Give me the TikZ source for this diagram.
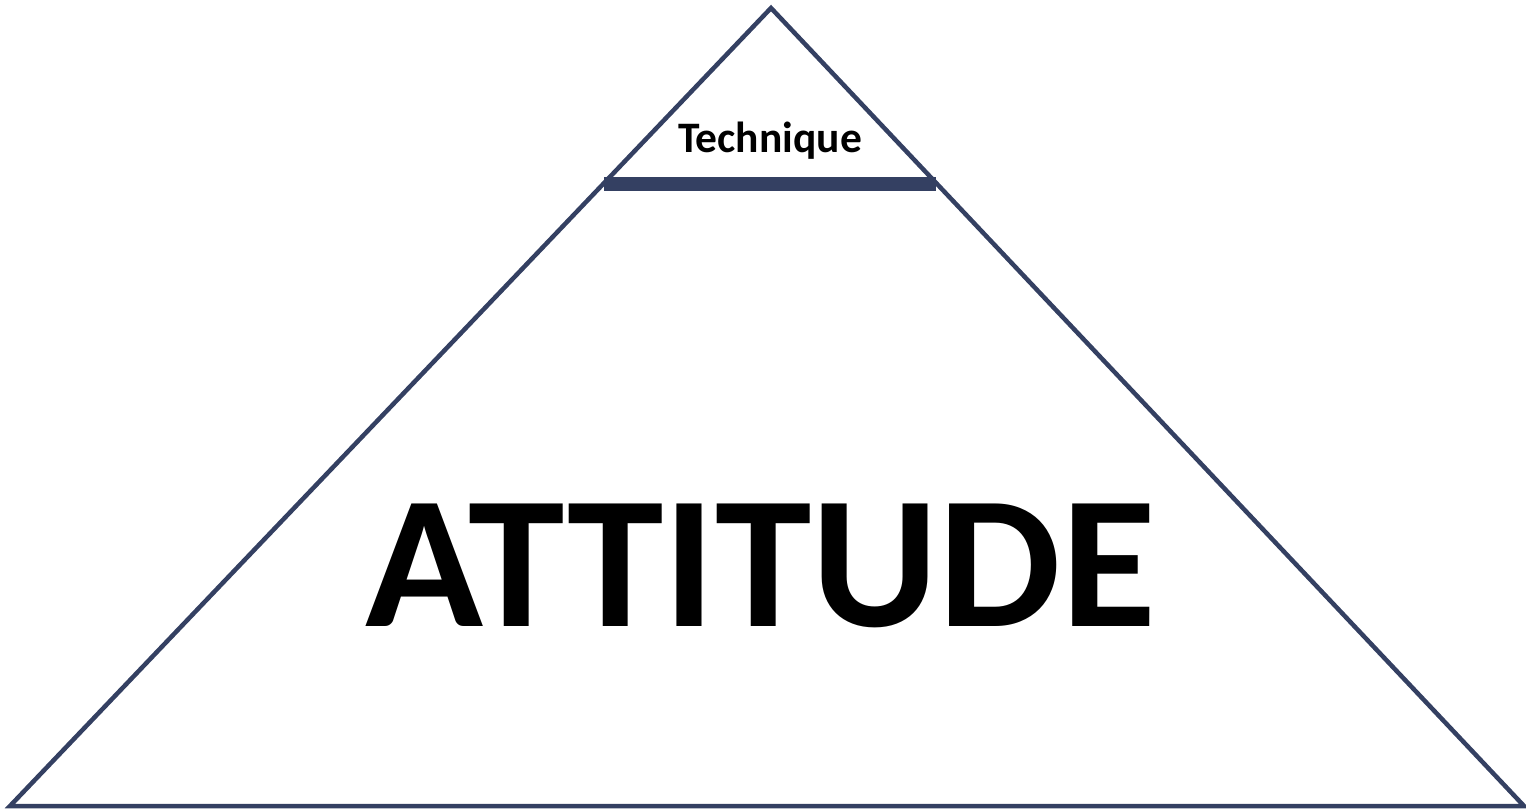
\documentclass[tikz,border=0pt]{standalone}
\usepackage{fontspec}
\setmainfont{Carlito}
\definecolor{pyrnavy}{RGB}{52,64,98}
\begin{document}
\begin{tikzpicture}[x=1pt, y=-1pt, every node/.style={font=\bfseries, inner sep=0pt}]
  \useasboundingbox (0,0) rectangle (1526,810);
  \coordinate (apex) at (771,8);
  \coordinate (baseL) at (10,806);
  \coordinate (baseR) at (1524,806);
  \draw[line width=4.5pt, pyrnavy, line join=miter] (apex) -- (baseR) -- (baseL) -- cycle;
  \draw[line width=14pt, pyrnavy] (604,184) -- (936,184);
  \node[anchor=base, font=\fontsize{43.5}{50}\selectfont\bfseries] (tech) at (770,153) {Technique};
  \node[anchor=base, xscale=1.03, font=\fontsize{189}{200}\selectfont\bfseries] (att) at (761,626) {ATTITUDE};
\end{tikzpicture}
\end{document}
